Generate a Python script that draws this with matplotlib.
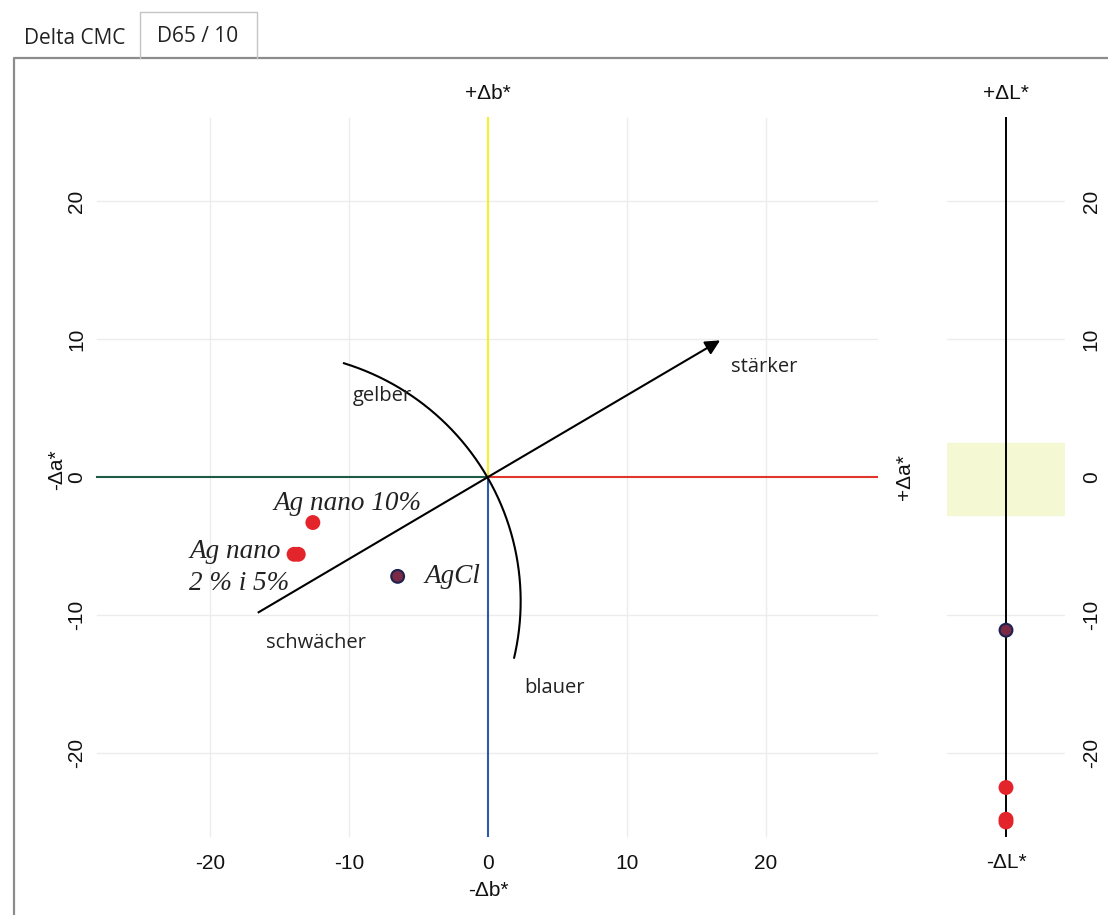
import numpy as np
import matplotlib.pyplot as plt
from matplotlib.lines import Line2D
from matplotlib.patches import Rectangle

plt.rcParams["axes.unicode_minus"] = False

# colour differences of the samples against the standard (CIELAB, D65 / 10)
samples = ["Ag nano 2%", "Ag nano 5%", "Ag nano 10%", "AgCl"]
delta_a = [-13.95, -13.65, -12.6, -6.5]
delta_b = [-5.6, -5.6, -3.3, -7.2]
delta_L = [-25.0, -24.8, -22.5, -11.1]
face = ["#e3242b", "#e3242b", "#e3242b", "#7a2a44"]
edge = ["#e3242b", "#e3242b", "#e3242b", "#1c2350"]

ticks = [-20, -10, 0, 10, 20]

W, H = 1108, 915
fig = plt.figure(figsize=(W / 100, H / 100), dpi=100)
fig.patch.set_facecolor("white")


def box(l, t, r, b):
    return [l / W, 1 - b / H, (r - l) / W, (b - t) / H]


def fig_line(xs, ys, **kw):
    fig.add_artist(Line2D([x / W for x in xs], [1 - y / H for y in ys],
                          transform=fig.transFigure, **kw))


# tab header and panel frame
fig_line([14, 14, 1108], [915, 58, 58], color="#8c8c8c", lw=1.6)
fig_line([140, 140, 257, 257], [58, 12, 12, 58], color="#c4c4c4", lw=1.0)
fig.text(24 / W, 1 - 38 / H, "Delta CMC", family="Open Sans", fontsize=15,
         va="center", ha="left", color="#222222")
fig.text(198 / W, 1 - 36 / H, "D65 / 10", family="Open Sans", fontsize=15,
         va="center", ha="center", color="#222222")

lab = dict(family="Liberation Sans", fontsize=15, color="#111111")
note = dict(family="Open Sans", fontsize=14.5, color="#222222")
serif = dict(family="Liberation Serif", style="italic", fontsize=19.5, color="#222222")

# ---- a*/b* plane ----
ax = fig.add_axes(box(91.85, 104.4, 884.15, 842.7))
ax.set_xlim(-28.5, 28.5)
ax.set_ylim(-26.5, 27)
ax.set_facecolor("none")
for s in ax.spines.values():
    s.set_visible(False)

grid_c = "#ececec"
for v in [-20, -10, 10, 20]:
    ax.plot([v, v], [-26, 26], color=grid_c, lw=1, zorder=0)
    ax.plot([-28.1, 28], [v, v], color=grid_c, lw=1, zorder=0)

ax.plot([-28.1, 0], [0, 0], color="#1f5a46", lw=1.5, zorder=2)
ax.plot([0, 28], [0, 0], color="#e0372c", lw=1.5, zorder=2)
ax.plot([0, 0], [0, 26], color="#f6f02a", lw=1.5, zorder=2)
ax.plot([0, 0], [0, -26], color="#2a5aa8", lw=1.5, zorder=2)

# chroma direction and hue arc
ax.plot([-16.5, 0], [-9.8, 0], color="black", lw=1.5, zorder=3)
ax.annotate("", xy=(16.7, 9.9), xytext=(0, 0),
            arrowprops=dict(arrowstyle="-|>", color="black", lw=1.5,
                            mutation_scale=22, shrinkA=0, shrinkB=0), zorder=3)
cx, cy, r = -15.7, -9.0, 18.05
t = np.radians(np.linspace(72.8, -13.1, 200))
ax.plot(cx + r * np.cos(t), cy + r * np.sin(t), color="black", lw=1.5, zorder=3)

ax.text(-7.6, 5.9, "gelber", ha="center", va="center", **note)
ax.text(19.9, 8.0, "stärker", ha="center", va="center", **note)
ax.text(-12.4, -12.0, "schwächer", ha="center", va="center", **note)
ax.text(4.8, -15.3, "blauer", ha="center", va="center", **note)

ax.scatter(delta_a, delta_b, s=85, c=face, edgecolors=edge, linewidths=1.5, zorder=5)
ax.text(-15.4, -1.9, "Ag nano 10%", ha="left", va="center", **serif)
ax.text(-21.5, -5.4, "Ag nano", ha="left", va="center", **serif)
ax.text(-21.5, -7.7, "2 % i 5%", ha="left", va="center", **serif)
ax.text(-4.6, -7.2, "AgCl", ha="left", va="center", **serif)

ax.set_xticks(ticks)
ax.set_yticks(ticks)
ax.tick_params(length=0, labelsize=15, labelcolor="#111111")
ax.tick_params(axis="x", pad=8)
ax.tick_params(axis="y", labelrotation=90, pad=4)
for tl in ax.get_xticklabels() + ax.get_yticklabels():
    tl.set_family("Liberation Sans")
for tl in ax.get_yticklabels():
    tl.set_va("center")

ax.text(0, 27.8, "+Δb*", ha="center", va="center", clip_on=False, **lab)
ax.text(0, -30.0, "-Δb*", ha="center", va="center", clip_on=False, **lab)
ax.text(-31.0, 0.5, "-Δa*", ha="center", va="center", rotation=90, clip_on=False, **lab)
ax.text(30.0, 0, "+Δa*", ha="center", va="center", rotation=90, clip_on=False, **lab)

# ---- lightness scale ----
axL = fig.add_axes(box(947, 104.4, 1065, 842.7))
axL.set_xlim(-1, 1)
axL.set_ylim(-26.5, 27)
axL.set_facecolor("none")
for s in axL.spines.values():
    s.set_visible(False)
axL.add_patch(Rectangle((-1, -2.75), 2, 5.2, color="#f4f9d4", zorder=0))
for v in [-20, -10, 10, 20]:
    axL.plot([-1, 1], [v, v], color=grid_c, lw=1, zorder=0)
axL.plot([0, 0], [-26, 26], color="black", lw=1.4, zorder=2)
axL.scatter(np.zeros(len(delta_L)), delta_L, s=85, c=face, edgecolors=edge,
            linewidths=1.5, zorder=5)
axL.set_xticks([])
axL.set_yticks(ticks)
axL.yaxis.tick_right()
axL.tick_params(length=0, labelsize=15, labelcolor="#111111", pad=12)
axL.tick_params(axis="y", labelrotation=90)
for tl in axL.get_yticklabels():
    tl.set_family("Liberation Sans")
    tl.set_va("center")
axL.text(0, 27.8, "+ΔL*", ha="center", va="center", clip_on=False, **lab)
axL.text(0, -27.9, "-ΔL*", ha="center", va="center", clip_on=False, **lab)

fig.savefig("out.png", dpi=100, facecolor="white")
